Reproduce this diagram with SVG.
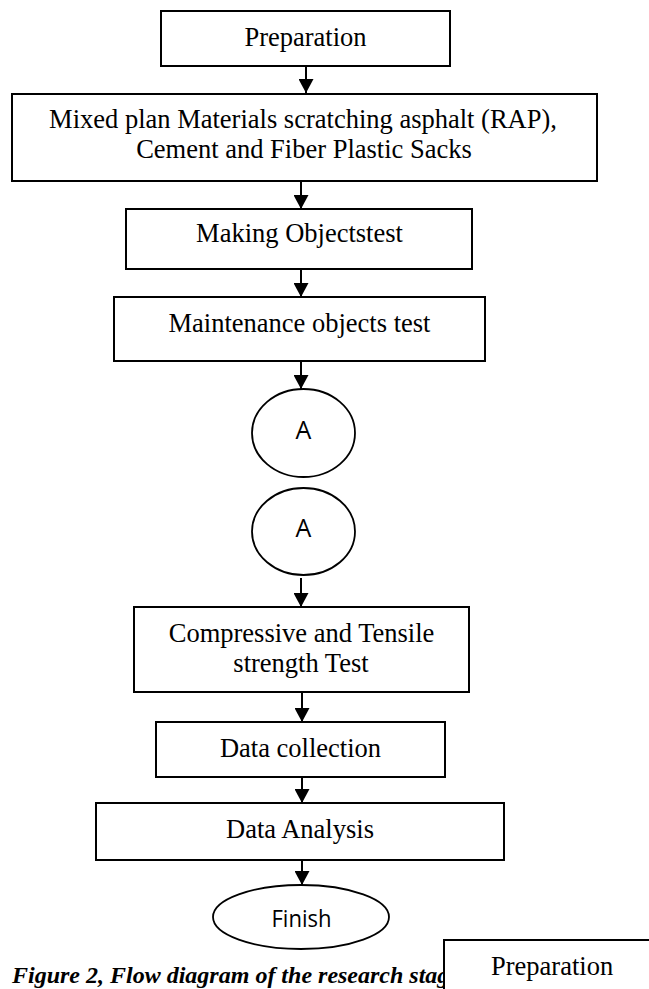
<svg xmlns="http://www.w3.org/2000/svg" width="649" height="989" viewBox="0 0 649 989">
  <style>
    .box { fill: #ffffff; stroke: #000000; stroke-width: 2; }
    .oval { fill: #ffffff; stroke: #000000; stroke-width: 1.8; }
    .lbl { font-family: "Liberation Serif", "Times New Roman", serif; font-size: 26.5px; fill: #000000; text-anchor: middle; }
    .sans { font-family: "Open Sans", "Noto Sans", "Liberation Sans", sans-serif; font-size: 23px; fill: #000000; text-anchor: middle; }
    .big { font-size: 25px; }
    .link { stroke: #000000; stroke-width: 2; fill: none; marker-end: url(#head); }
    .caption { font-family: "Liberation Serif", "Times New Roman", serif; font-size: 24px; font-weight: bold; font-style: italic; fill: #000000; }
  </style>
  <defs>
    <marker id="head" viewBox="0 0 14 15" markerWidth="14" markerHeight="15" refX="14" refY="7.5" orient="auto" markerUnits="userSpaceOnUse">
      <path d="M0,0 L14,7.5 L0,15 Z" fill="#000000"/>
    </marker>
  </defs>

  <rect width="649" height="989" fill="#ffffff"/>

  <!-- connectors between the stages -->
  <g id="connectors">
    <line class="link" x1="306" y1="66" x2="306" y2="93"/>
    <line class="link" x1="301" y1="181" x2="301" y2="209"/>
    <line class="link" x1="301" y1="269" x2="301" y2="297"/>
    <line class="link" x1="301" y1="361" x2="301" y2="389"/>
    <line class="link" x1="301" y1="578" x2="301" y2="607"/>
    <line class="link" x1="302" y1="692" x2="302" y2="722"/>
    <line class="link" x1="302" y1="777" x2="302" y2="803"/>
    <line class="link" x1="302" y1="860" x2="302" y2="885"/>
  </g>

  <g id="preparation">
    <rect class="box" x="161" y="11" width="289" height="55"/>
    <text class="lbl" x="305.5" y="46">Preparation</text>
  </g>

  <g id="mixed-plan">
    <rect class="box" x="12" y="94" width="585" height="87"/>
    <text class="lbl" x="303" y="128">Mixed plan Materials scratching asphalt (RAP),</text>
    <text class="lbl" x="304" y="158">Cement and Fiber Plastic Sacks</text>
  </g>

  <g id="making-objects">
    <rect class="box" x="126" y="209" width="346" height="60"/>
    <text class="lbl" x="299.5" y="242">Making Objectstest</text>
  </g>

  <g id="maintenance">
    <rect class="box" x="114" y="297" width="371" height="64"/>
    <text class="lbl" x="299.5" y="332">Maintenance objects test</text>
  </g>

  <g id="connector-a-out">
    <ellipse class="oval" cx="303.5" cy="433" rx="51.5" ry="44"/>
    <text class="sans big" x="303.5" y="439">A</text>
  </g>

  <g id="connector-a-in">
    <ellipse class="oval" cx="303.5" cy="531.5" rx="51.5" ry="43.5"/>
    <text class="sans big" x="303.5" y="537">A</text>
  </g>

  <g id="strength-test">
    <rect class="box" x="134" y="607" width="335" height="85"/>
    <text class="lbl" x="301.5" y="642">Compressive and Tensile</text>
    <text class="lbl" x="301" y="672">strength Test</text>
  </g>

  <g id="data-collection">
    <rect class="box" x="156" y="722" width="289" height="55"/>
    <text class="lbl" x="300.5" y="757">Data collection</text>
  </g>

  <g id="data-analysis">
    <rect class="box" x="96" y="803" width="408" height="57"/>
    <text class="lbl" x="300" y="838">Data Analysis</text>
  </g>

  <g id="finish">
    <ellipse class="oval" cx="301" cy="917" rx="88" ry="32"/>
    <text class="sans" x="301.5" y="927" font-size="24" textLength="60" lengthAdjust="spacingAndGlyphs">Finish</text>
  </g>

  <text class="caption" x="12" y="983">Figure 2, Flow diagram of the research stag</text>

  <g id="preparation-repeat">
    <rect class="box" x="444" y="940" width="220" height="60"/>
    <text class="lbl" x="491" y="975" style="text-anchor:start">Preparation</text>
  </g>
</svg>
